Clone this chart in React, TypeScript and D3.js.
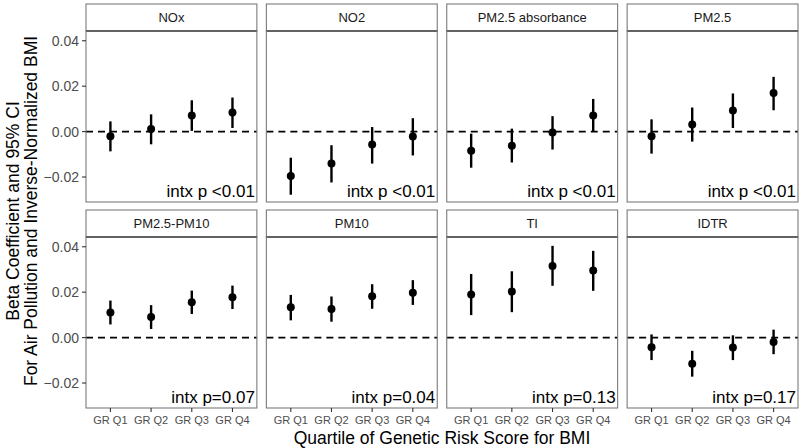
import React from "react";
import * as d3 from "d3";

const quartiles = ["GR Q1", "GR Q2", "GR Q3", "GR Q4"];
const pollutants = ["NOx", "NO2", "PM2.5 absorbance", "PM2.5", "PM2.5-PM10", "PM10", "TI", "IDTR"];
const estimates = [
  [-0.0021, 0.0011, 0.0071, 0.0084],
  [-0.0196, -0.0141, -0.0057, -0.0022],
  [-0.0084, -0.0062, -0.0004, 0.0071],
  [-0.0021, 0.0031, 0.0093, 0.017],
  [0.0111, 0.0091, 0.0156, 0.0178],
  [0.0134, 0.0126, 0.0182, 0.0198],
  [0.019, 0.0203, 0.0315, 0.0295],
  [-0.0042, -0.0115, -0.0044, -0.0019],
];
const lowers = [
  [-0.0087, -0.0056, 0.0003, 0.0016],
  [-0.0278, -0.0224, -0.0141, -0.0105],
  [-0.0159, -0.0136, -0.0079, 0.0001],
  [-0.0097, -0.0044, 0.0016, 0.0094],
  [0.0058, 0.0038, 0.0104, 0.0126],
  [0.0076, 0.007, 0.0127, 0.0144],
  [0.0099, 0.0112, 0.0228, 0.0206],
  [-0.0099, -0.0172, -0.0099, -0.0073],
];
const uppers = [
  [0.0045, 0.0076, 0.0138, 0.015],
  [-0.0115, -0.006, 0.002, 0.0059],
  [-0.0009, 0.0013, 0.0068, 0.0144],
  [0.0054, 0.0106, 0.0168, 0.0241],
  [0.0163, 0.0143, 0.0207, 0.0229],
  [0.0188, 0.0181, 0.0235, 0.0253],
  [0.028, 0.0292, 0.0404, 0.0382],
  [0.0014, -0.0058, 0.001, 0.0035],
];
const pLabels = [
  "intx p <0.01", "intx p <0.01", "intx p <0.01", "intx p <0.01",
  "intx p=0.07", "intx p=0.04", "intx p=0.13", "intx p=0.17",
];
const yTicks = [-0.02, 0, 0.02, 0.04];
const yDomain = [-0.031, 0.0443];

const W = 800;
const H = 448;
const plotLeft = 86;
const plotRight = 798;
const colGap = 9.5;
const nCol = 4;
const panelW = (plotRight - plotLeft - colGap * (nCol - 1)) / nCol;
const stripH = 27;
const panelH = 171;
const rowTops = [4, 210];
const FONT = "Liberation Sans, Arial, sans-serif";

export default function App() {
  const x = d3.scalePoint<string>().domain(quartiles).range([0, panelW]).padding(0.6);
  const y = d3.scaleLinear().domain(yDomain).range([panelH, 0]);
  const fmt = d3.format(".2f");

  return (
    <svg width={W} height={H} style={{ position: "absolute", left: 0, top: 0, background: "#fff" }} fontFamily={FONT}>
      {pollutants.map((name, i) => {
        const col = i % nCol;
        const row = Math.floor(i / nCol);
        const px = plotLeft + col * (panelW + colGap);
        const sy = rowTops[row];
        const py = sy + stripH;
        return (
          <g key={name}>
            <rect x={px} y={sy} width={panelW} height={stripH} fill="#fff" stroke="#7a7a7a" strokeWidth={1.1} />
            <line x1={px} x2={px + panelW} y1={py} y2={py} stroke="#222" strokeWidth={1.3} />
            <text x={px + panelW / 2} y={sy + stripH / 2} dy="0.36em" textAnchor="middle" fontSize={13} fill="#1a1a1a">
              {name}
            </text>
            <g transform={`translate(${px},${py})`}>
              <line x1={0} x2={panelW} y1={y(0)} y2={y(0)} stroke="#000" strokeWidth={1.6} strokeDasharray="7,5" />
              {quartiles.map((q, j) => (
                <g key={q}>
                  <line x1={x(q)} x2={x(q)} y1={y(lowers[i][j])} y2={y(uppers[i][j])} stroke="#000" strokeWidth={2.4} />
                  <circle cx={x(q)} cy={y(estimates[i][j])} r={4} fill="#000" />
                </g>
              ))}
              <text x={panelW - 2} y={panelH - 5} textAnchor="end" fontSize={17} fill="#000">
                {pLabels[i]}
              </text>
              <rect x={0} y={0} width={panelW} height={panelH} fill="none" stroke="#7a7a7a" strokeWidth={1.1} />
              {col === 0 &&
                yTicks.map((t) => (
                  <g key={t} transform={`translate(0,${y(t)})`}>
                    <line x1={-4} x2={0} stroke="#333" strokeWidth={1.1} />
                    <text x={-7} dy="0.35em" textAnchor="end" fontSize={14} fill="#4d4d4d">
                      {fmt(t)}
                    </text>
                  </g>
                ))}
              {row === 1 &&
                quartiles.map((q) => (
                  <g key={q} transform={`translate(${x(q)},${panelH})`}>
                    <line y1={0} y2={4} stroke="#333" strokeWidth={1.1} />
                    <text y={16} textAnchor="middle" fontSize={11} fill="#4d4d4d">
                      {q}
                    </text>
                  </g>
                ))}
            </g>
          </g>
        );
      })}
      <text x={(plotLeft + plotRight) / 2} y={444} textAnchor="middle" fontSize={17.5} fill="#000">
        Quartile of Genetic Risk Score for BMI
      </text>
      <g transform={`translate(0,211)rotate(-90)`}>
        <text x={0} y={19} textAnchor="middle" fontSize={17.5} fill="#000">
          Beta Coefficient and 95% CI
        </text>
        <text x={0} y={37} textAnchor="middle" fontSize={17.5} fill="#000">
          For Air Pollution and Inverse-Normalized BMI
        </text>
      </g>
    </svg>
  );
}
